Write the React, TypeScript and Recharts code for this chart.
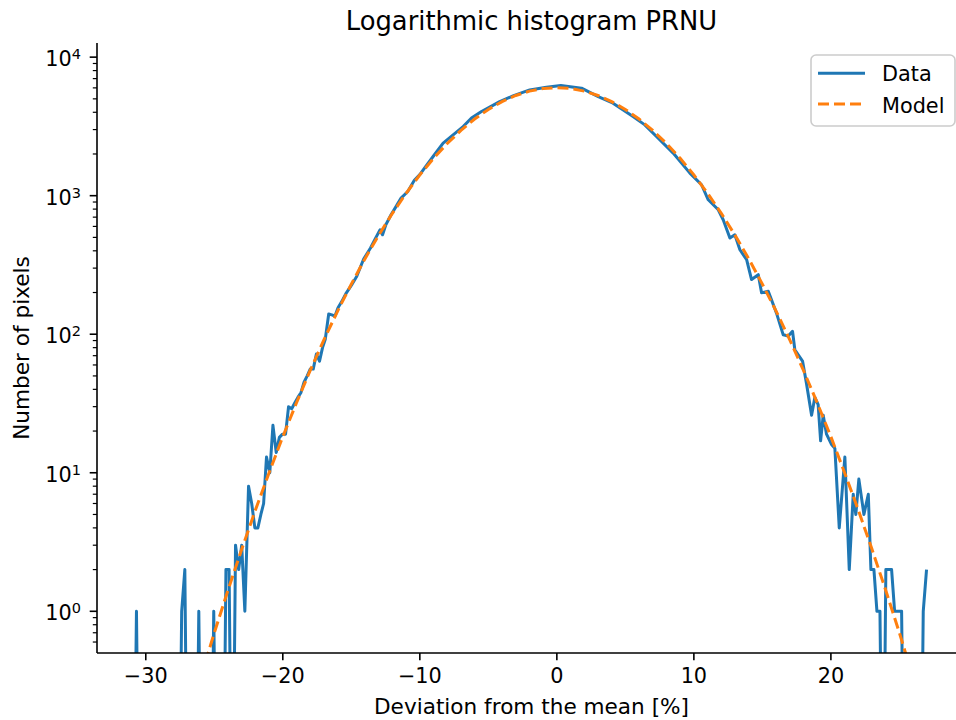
import { Line, LineChart, XAxis, YAxis } from "recharts";

const FONT = "'DejaVu Sans', Verdana, sans-serif";
const BLUE = "#1f77b4";
const ORANGE = "#ff7f0e";

// histogram bin centres [%] and pixel counts (0 = empty bin)
const DATA_X = [
  -30.91, -30.68, -30.45, -27.61, -27.38, -27.15, -26.92, -26.36, -26.13, -25.9,
  -25.27, -25.04, -24.81, -24.38, -24.15, -23.92, -23.69, -23.45, -23.22, -23.0,
  -22.77, -22.5, -22.27, -22.04, -21.82, -21.6, -21.4, -21.19, -20.95, -20.72,
  -20.48, -20.25, -20.02, -19.8, -19.58, -19.35, -19.12, -18.9, -18.67, -18.45,
  -18.22, -18.0, -17.78, -17.55, -17.32, -17.1, -16.9, -16.65, -16.42, -16.2,
  -15.97, -15.7, -15.36, -15.0, -14.6, -14.1, -13.6, -13.2, -12.9, -12.72,
  -12.48, -12.1, -11.75, -11.37, -10.88, -10.4, -10.0, -9.7, -9.03, -8.3,
  -7.57, -6.84, -6.23, -5.5, -4.9, -4.17, -3.2, -1.98, -0.76, 0.29,
  1.8, 3.02, 4.1, 5.56, 6.42, 7.27, 8.49, 9.71, 10.56, 11.05,
  11.78, 12.14, 12.63, 12.99, 13.36, 13.85, 14.21, 14.7, 14.94, 15.43,
  16.03, 16.52, 16.89, 17.2, 17.37, 17.93, 18.22, 18.59, 18.83, 19.07,
  19.25, 19.44, 19.68, 20.05, 20.29, 20.61, 21.02, 21.34, 21.63, 21.82,
  22.04, 22.41, 22.73, 22.92, 23.14, 23.36, 23.58, 23.8, 24.01, 24.22,
  24.43, 24.65, 24.9, 25.16, 25.4, 26.52, 26.74, 26.98,
];
const DATA_COUNTS = [
  0, 1, 0, 0, 1, 2, 0, 0, 1, 0,
  0, 1, 0, 0, 2, 2, 0, 3, 2, 3,
  1, 8, 6, 4, 4, 5, 6, 13, 10, 22,
  14, 18, 19, 19, 30, 29, 32, 35, 38, 45,
  50, 56, 56, 72, 64, 80, 92, 140, 138, 135,
  155, 172, 199, 225, 262, 349, 419, 500, 567, 522,
  617, 728, 830, 961, 1072, 1290, 1420, 1560, 1918, 2395,
  2748, 3155, 3630, 4050, 4355, 4779, 5250, 5800, 6070, 6235,
  5970, 5190, 4655, 3724, 3245, 2673, 2030, 1455, 1199, 934,
  791, 670, 495, 522, 407, 345, 248, 269, 199, 204,
  142, 99, 97, 105, 77, 64, 44, 26, 35, 31,
  17, 26, 19, 16, 15, 4, 13, 2, 7, 5,
  9, 5, 7, 2, 2, 1, 1, 0, 2, 2,
  2, 1, 1, 1, 0, 0, 1, 2,
];

// fitted model, read at whole percent steps
const MODEL_X = [
  -27, -26, -25, -24, -23, -22, -21, -20, -19, -18, -17, -16, -15, -14, -13, -12, -11, -10,
  -9, -8, -7, -6, -5, -4, -3, -2, -1, 0, 1, 2, 3, 4, 5, 6, 7, 8, 9,
  10, 11, 12, 13, 14, 15, 16, 17, 18, 19, 20, 21, 22, 23, 24, 25, 26, 27,
];
const MODEL_Y = [
  0.154, 0.33, 0.7, 1.42, 2.8, 5.38, 10.0, 18.2, 32.0, 54.8, 91, 147, 230, 351, 519, 746, 1041, 1413,
  1861, 2381, 2960, 3574, 4194, 4778, 5288, 5687, 5940, 6026, 5940, 5687, 5288, 4778, 4194, 3574, 2960, 2381, 1861,
  1413, 1041, 746, 519, 351, 230, 147, 91, 54.8, 32.0, 18.2, 10.0, 5.38, 2.8, 1.42, 0.7, 0.33, 0.154,
];

const X_TICKS = [-30, -20, -10, 0, 10, 20];
const Y_MAJOR = [1, 10, 100, 1000, 10000];
const Y_MINOR = [
  0.6, 0.7, 0.8, 0.9, 2, 3, 4, 5, 6, 7, 8, 9, 20, 30, 40, 50, 60, 70, 80, 90,
  200, 300, 400, 500, 600, 700, 800, 900, 2000, 3000, 4000, 5000, 6000, 7000, 8000, 9000,
];

const X_DOMAIN = [-33.56, 29.86];
const Y_DOMAIN = [0.5, 12650];
// log axis cannot show 0 -> empty bins drop below the frame and get clipped
const EMPTY = 0.01;

const dataRows = DATA_X.map((x, i) => ({ x, y: DATA_COUNTS[i] > 0 ? DATA_COUNTS[i] : EMPTY }));
const modelRows = MODEL_X.map((x, i) => ({ x, y: MODEL_Y[i] }));

const minus = (v: number) => String(v).replace("-", "\u2212");

function LogTick({ x, y, payload }: any) {
  const v = payload.value;
  const major = Y_MAJOR.includes(v);
  const len = major ? 7.3 : 4.2;
  return (
    <g>
      <line x1={x - len} x2={x} y1={y} y2={y} stroke="#000" strokeWidth={major ? 1.6 : 1.2} />
      {major && (
        <text x={x - 16} y={y + 9} textAnchor="end" fontFamily={FONT} fontSize={20.8} fill="#000">
          10
          <tspan dy={-7} fontSize={14.5}>
            {Math.round(Math.log10(v))}
          </tspan>
        </text>
      )}
    </g>
  );
}

export default function App() {
  return (
    <div
      style={{
        position: "absolute",
        left: 0,
        top: 0,
        width: 956,
        height: 720,
        overflow: "hidden",
        background: "#fff",
      }}
    >
      <LineChart width={966} height={720} margin={{ top: 43, right: 0, bottom: 0, left: 0 }}>
        <XAxis
          dataKey="x"
          type="number"
          domain={X_DOMAIN}
          allowDataOverflow
          ticks={X_TICKS}
          interval={0}
          tickFormatter={minus}
          height={67}
          tickSize={7.3}
          tickMargin={8}
          stroke="#000"
          axisLine={{ stroke: "#000", strokeWidth: 1.6 }}
          tickLine={{ stroke: "#000", strokeWidth: 1.6 }}
          tick={{ fill: "#000", fontSize: 20.8, fontFamily: FONT }}
        />
        <XAxis
          xAxisId="top"
          orientation="top"
          type="number"
          domain={X_DOMAIN}
          height={0}
          tick={false}
          tickLine={false}
          axisLine={{ stroke: "#000", strokeWidth: 1.6 }}
        />
        <YAxis
          type="number"
          scale="log"
          domain={Y_DOMAIN}
          allowDataOverflow
          ticks={[...Y_MAJOR, ...Y_MINOR]}
          interval={0}
          width={97}
          tickSize={0}
          tickMargin={0}
          tickLine={false}
          axisLine={{ stroke: "#000", strokeWidth: 1.6 }}
          tick={<LogTick />}
        />
        <Line
          data={dataRows}
          dataKey="y"
          type="linear"
          stroke={BLUE}
          strokeWidth={3}
          strokeLinejoin="round"
          dot={false}
          activeDot={false}
          isAnimationActive={false}
        />
        <Line
          data={modelRows}
          dataKey="y"
          type="linear"
          stroke={ORANGE}
          strokeWidth={3}
          strokeDasharray="11 5"
          dot={false}
          activeDot={false}
          isAnimationActive={false}
        />
      </LineChart>
      <svg
        width={956}
        height={720}
        style={{ position: "absolute", left: 0, top: 0, pointerEvents: "none" }}
        fontFamily={FONT}
      >
        <text x={531.5} y={30} textAnchor="middle" fontSize={25.8} fill="#000">
          Logarithmic histogram PRNU
        </text>
        <text x={531.5} y={714} textAnchor="middle" fontSize={21.6} fill="#000">
          Deviation from the mean [%]
        </text>
        <text x={29} y={348} textAnchor="middle" fontSize={21.6} fill="#000" transform="rotate(-90 29 348)">
          Number of pixels
        </text>
        <rect x={811} y={55} width={144} height={71} rx={5} fill="rgba(255,255,255,0.8)" stroke="#cccccc" strokeWidth={1.6} />
        <line x1={818} x2={865} y1={73.3} y2={73.3} stroke={BLUE} strokeWidth={3} />
        <text x={882} y={80.7} fontSize={20.8} fill="#000">
          Data
        </text>
        <line x1={818} x2={865} y1={104} y2={104} stroke={ORANGE} strokeWidth={3} strokeDasharray="11 5" />
        <text x={882} y={112.5} fontSize={20.8} fill="#000">
          Model
        </text>
      </svg>
    </div>
  );
}
